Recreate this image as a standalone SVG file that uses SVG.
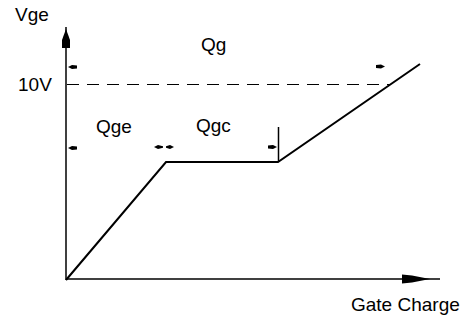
<svg xmlns="http://www.w3.org/2000/svg" width="468" height="320" viewBox="0 0 468 320">
<style>
.t{font-family:"Liberation Sans",Arial,sans-serif;font-size:19px;fill:#000}
.ax{stroke:#000;stroke-width:1.5;fill:none}
.cv{stroke:#000;stroke-width:2;fill:none;stroke-linejoin:miter}
.da{stroke:#000;stroke-width:1.2;stroke-dasharray:12,8;fill:none}
.ar{fill:#000}
</style>
<rect width="468" height="320" fill="#fff"/>
<g id="connectors">
<line class="ax" x1="66" y1="27" x2="66" y2="280"/>
<polygon class="ar" points="62,48 62,40 66,29 70,40 70,48"/>
<line class="ax" x1="66" y1="279" x2="440" y2="279"/>
<polygon class="ar" points="402,274.5 412,275.5 430,279 412,282.5 402,283.5"/>
<line class="da" x1="67" y1="84.5" x2="390" y2="84.5"/>
<polyline class="cv" points="66,280 166,162 278,162 420,64"/>
<line class="ax" x1="278.5" y1="127" x2="278.5" y2="162"/>
<g class="ar">
<polygon points="68,67 72,65 77,65.5 77,68.5 72,69"/>
<polygon points="385,66.5 381,64.5 376,65 376,68 381,68.5"/>
<polygon points="68,148 72,146 77,146.5 77,149.5 72,150"/>
<polygon points="154,147 158,145 163,146.2 163,147.8 158,149"/>
<polygon points="174,147 170,145 166,146.2 166,147.8 170,149"/>
<polygon points="277,147 273,145 268,145.5 268,148.5 273,149"/>
</g>
</g>
<g id="label-vge"><text class="t" x="15" y="21">Vge</text></g>
<g id="label-10v"><text class="t" x="18" y="91">10V</text></g>
<g id="label-qg"><text class="t" x="201" y="51">Qg</text></g>
<g id="label-qge"><text class="t" x="96" y="133">Qge</text></g>
<g id="label-qgc"><text class="t" x="196" y="132">Qgc</text></g>
<g id="label-gate-charge"><text class="t" x="351" y="311">Gate Charge</text></g>
</svg>
